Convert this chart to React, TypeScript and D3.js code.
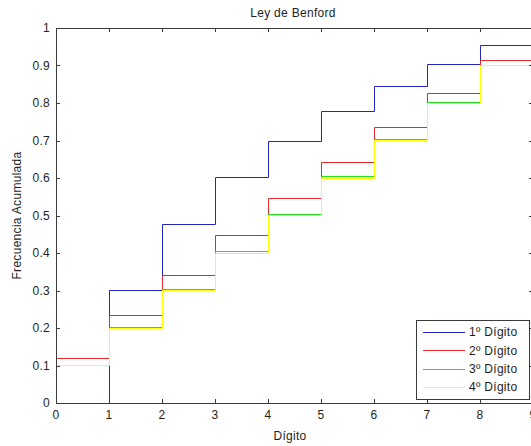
import { useEffect, useRef } from 'react'
import * as d3 from 'd3'

const digits = [0, 1, 2, 3, 4, 5, 6, 7, 8, 9]
const primerDigito = [0, 0.301, 0.477, 0.602, 0.699, 0.778, 0.845, 0.903, 0.954, 1]
const segundoDigito = [0.1197, 0.2336, 0.3424, 0.4467, 0.547, 0.6437, 0.7371, 0.8275, 0.9151, 1]
const tercerDigito = [0.1018, 0.2032, 0.3041, 0.4047, 0.5049, 0.6047, 0.7041, 0.8031, 0.9017, 1]
const cuartoDigito = [0.1002, 0.2003, 0.3004, 0.4005, 0.5005, 0.6005, 0.7004, 0.8003, 0.9002, 1]
const seriesNames = ['1º Dígito', '2º Dígito', '3º Dígito', '4º Dígito']
const seriesColors = ['#2424c4', '#e62a2a', '#22e022', '#ffff00']
const xTicks = [0, 1, 2, 3, 4, 5, 6, 7, 8, 9]
const yTicks = [0, 0.1, 0.2, 0.3, 0.4, 0.5, 0.6, 0.7, 0.8, 0.9, 1]

export default function App() {
  const svgRef = useRef<SVGSVGElement>(null)

  useEffect(() => {
    if (!svgRef.current) return
    const svg = d3.select(svgRef.current)
    svg.selectAll('*').remove()

    const W = 531
    const H = 446
    // the plot runs past the right edge of the figure, as in the original
    const margin = { top: 28, left: 56 }
    const width = 477
    const height = 375
    const font = 'Liberation Sans, Arial, sans-serif'
    const axisColor = '#3a3a3a'
    const textColor = '#1e1e1e'

    const x = d3.scaleLinear().domain([0, 9]).range([0, width])
    const y = d3.scaleLinear().domain([0, 1]).range([height, 0])

    const styleText = (sel: d3.Selection<SVGTextElement, unknown, null, undefined>) =>
      sel.style('font-family', font)
        .style('font-size', '12px')
        .style('letter-spacing', '0.3px')
        .style('fill', textColor)

    svg.append('rect').attr('width', W).attr('height', H).attr('fill', '#fff')

    const g = svg.append('g').attr('transform', `translate(${margin.left},${margin.top})`)

    const allSeries = [primerDigito, segundoDigito, tercerDigito, cuartoDigito]
    const line = d3.line<number>()
      .x((_, i) => Math.round(x(digits[i])) + 0.5)
      .y(d => Math.round(y(d)) + 0.5)
      .curve(d3.curveStepAfter)

    allSeries.forEach((vals, si) => {
      g.append('path')
        .datum(vals)
        .attr('fill', 'none')
        .attr('stroke', seriesColors[si])
        .attr('stroke-width', 1)
        .attr('d', line)
    })

    // axis box with inward ticks
    const box = g.append('g').attr('stroke', axisColor).attr('stroke-width', 1).attr('fill', 'none')
    box.append('rect')
      .attr('x', 0.5).attr('y', 0.5)
      .attr('width', width).attr('height', height)
    xTicks.forEach(t => {
      const px = Math.round(x(t)) + 0.5
      box.append('line').attr('x1', px).attr('x2', px).attr('y1', height).attr('y2', height - 4)
      box.append('line').attr('x1', px).attr('x2', px).attr('y1', 0).attr('y2', 4)
      g.append('text')
        .attr('x', x(t)).attr('y', height + 16)
        .attr('text-anchor', 'middle')
        .call(styleText)
        .text(t)
    })
    yTicks.forEach(t => {
      const py = Math.round(y(t)) + 0.5
      box.append('line').attr('x1', 0).attr('x2', 4).attr('y1', py).attr('y2', py)
      box.append('line').attr('x1', width).attr('x2', width - 4).attr('y1', py).attr('y2', py)
      g.append('text')
        .attr('x', -6).attr('y', y(t)).attr('dy', '0.35em')
        .attr('text-anchor', 'end')
        .call(styleText)
        .text(d3.format('~g')(t))
    })

    svg.append('text')
      .attr('x', 293).attr('y', 17)
      .attr('text-anchor', 'middle')
      .call(styleText)
      .text('Ley de Benford')

    svg.append('text')
      .attr('x', 290).attr('y', 440)
      .attr('text-anchor', 'middle')
      .call(styleText)
      .text('Dígito')

    svg.append('text')
      .attr('transform', `translate(21,${margin.top + height / 2}) rotate(-90)`)
      .attr('text-anchor', 'middle')
      .call(styleText)
      .text('Frecuencia Acumulada')

    // legend
    const lg = svg.append('g').attr('transform', 'translate(416,320)')
    lg.append('rect')
      .attr('x', 0.5).attr('y', 0.5).attr('width', 113).attr('height', 79)
      .attr('fill', '#fff').attr('stroke', axisColor)
    seriesNames.forEach((name, i) => {
      const ly = 12 + i * 18.3
      lg.append('line')
        .attr('x1', 7).attr('x2', 49)
        .attr('y1', Math.round(ly) + 0.5).attr('y2', Math.round(ly) + 0.5)
        .attr('stroke', seriesColors[i])
      lg.append('text')
        .attr('x', 53).attr('y', ly).attr('dy', '0.35em')
        .call(styleText)
        .text(name)
    })
  }, [])

  return (
    <svg
      ref={svgRef}
      width={531}
      height={446}
      style={{ position: 'absolute', left: 0, top: 0, display: 'block' }}
    />
  )
}
